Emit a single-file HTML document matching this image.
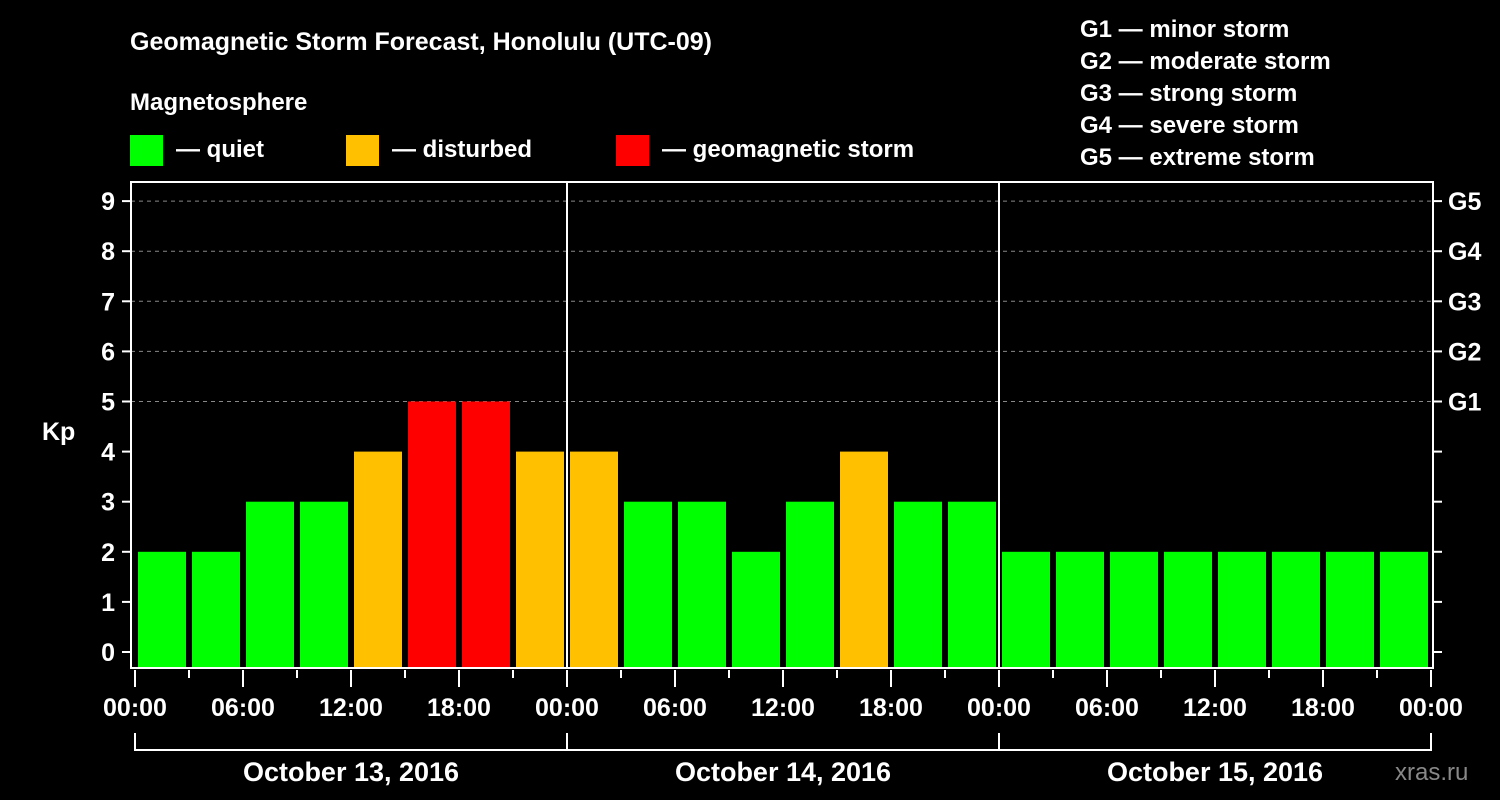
<!DOCTYPE html>
<html><head><meta charset="utf-8"><style>
html,body{margin:0;padding:0;background:#000;}
svg{display:block;font-family:"Liberation Sans",Arial,sans-serif;font-weight:bold;}
</style></head><body>
<svg id="chart" width="1500" height="800" viewBox="0 0 1500 800" xmlns="http://www.w3.org/2000/svg">
<rect width="1500" height="800" fill="#000"/>
<text x="130" y="50" fill="#fff" font-size="25">Geomagnetic Storm Forecast, Honolulu (UTC-09)</text>
<text x="130" y="110" fill="#fff" font-size="24">Magnetosphere</text>
<g><rect x="130" y="135" width="33" height="31" fill="#00ff00"/><text x="176" y="157" fill="#fff" font-size="24">— quiet</text></g>
<g><rect x="346" y="135" width="33" height="31" fill="#ffc000"/><text x="392" y="157" fill="#fff" font-size="24">— disturbed</text></g>
<g><rect x="616" y="135" width="33" height="31" fill="#ff0000"/><text x="662" y="157" fill="#fff" font-size="24">— geomagnetic storm</text></g>
<g fill="#fff" font-size="24">
<text x="1080" y="37">G1 — minor storm</text>
<text x="1080" y="69">G2 — moderate storm</text>
<text x="1080" y="101">G3 — strong storm</text>
<text x="1080" y="133">G4 — severe storm</text>
<text x="1080" y="165">G5 — extreme storm</text>
</g>
<text x="42" y="440" fill="#fff" font-size="25">Kp</text>
<g id="grid"></g><g id="bars"></g><g id="axes"></g>
<text x="1395" y="780" fill="#888" font-size="24" font-weight="normal">xras.ru</text>
</svg>
<script>
const kpValues = [2,2,3,3,4,5,5,4, 4,3,3,2,3,4,3,3, 2,2,2,2,2,2,2,2];
const yTicks = [0,1,2,3,4,5,6,7,8,9];
const gLabels = ["G1","G2","G3","G4","G5"];
const gLevels = [5,6,7,8,9];
const timeLabels = ["00:00","06:00","12:00","18:00","00:00","06:00","12:00","18:00","00:00","06:00","12:00","18:00","00:00"];
const dayLabels = ["October 13, 2016","October 14, 2016","October 15, 2016"];

const NS="http://www.w3.org/2000/svg";
const L=131,R=1433,T=182,B=668,X0=135,STEP=54;
const y=v=>652-v*50.1;
const x=i=>X0+i*STEP;
function mk(tag,attrs,parent,txt){const e=document.createElementNS(NS,tag);for(const k in attrs)e.setAttribute(k,attrs[k]);if(txt!==undefined)e.textContent=txt;parent.appendChild(e);return e;}
const grid=document.getElementById('grid'),bars=document.getElementById('bars'),axes=document.getElementById('axes');
yTicks.forEach(v=>{
  if(v>=5){const g=mk('line',{x1:L,x2:R,y1:y(v),y2:y(v),stroke:'#888','stroke-dasharray':'4,4','stroke-width':1},grid);
  
  }
  const t=mk('line',{x1:L-9,x2:L,y1:y(v),y2:y(v),stroke:'#fff','stroke-width':2},axes);
  
  
  const rt=mk('line',{x1:R,x2:R+9,y1:y(v),y2:y(v),stroke:'#fff','stroke-width':2},axes);
  
  
  const lb=mk('text',{x:L-16,y:y(v)+9,fill:'#fff','font-size':25,'text-anchor':'end'},axes,String(v));
  
  
});
gLevels.forEach((v,i)=>{
  const t=mk('text',{x:1448,y:y(v)+9,fill:'#fff','font-size':25},axes,gLabels[i]);
  
  
});
kpValues.forEach((v,i)=>{
  const c=v>=5?'#ff0000':(v>=4?'#ffc000':'#00ff00');
  const r=mk('rect',{x:x(i)+3,y:y(v),width:48,height:667-y(v),fill:c},bars);
  
  
});
const fr=mk('rect',{x:L,y:T,width:R-L,height:B-T,fill:'none',stroke:'#fff','stroke-width':2},axes);


for(let d=1;d<3;d++){
  const s=mk('line',{x1:x(d*8),x2:x(d*8),y1:T,y2:B,stroke:'#fff','stroke-width':2},axes);
  
  
}
for(let i=0;i<=24;i++){
  const major=i%2===0;
  const t=mk('line',{x1:x(i),x2:x(i),y1:B+2,y2:major?B+19:B+10,stroke:'#fff','stroke-width':2},axes);
  
  
}
timeLabels.forEach((s,i)=>{
  const t=mk('text',{x:x(i*2),y:716,fill:'#fff','font-size':25,'text-anchor':'middle'},axes,s);
  
  
});
const br=mk('path',{d:`M${x(0)},733V750H${x(24)}V733M${x(8)},733V750M${x(16)},733V750`,fill:'none',stroke:'#fff','stroke-width':2},axes);


dayLabels.forEach((s,d)=>{
  const t=mk('text',{x:x(d*8+4),y:781,fill:'#fff','font-size':27,'text-anchor':'middle'},axes,s);
  
  
});
</script>
</body></html>
